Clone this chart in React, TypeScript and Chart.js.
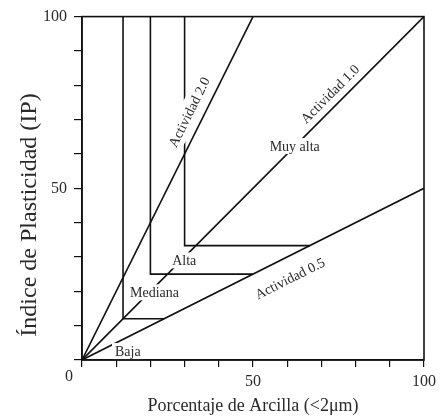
import React, { useEffect, useRef } from 'react';
import { Chart, registerables } from 'chart.js';

Chart.register(...registerables);

// Activity lines (IP = A * clay%)
const act20X = [0, 50];
const act20Y = [0, 100];
const act10X = [0, 100];
const act10Y = [0, 100];
const act05X = [0, 100];
const act05Y = [0, 50];

// Class boundaries
const bound1X = [12, 12, 24];
const bound1Y = [100, 12, 12];
const bound2X = [20, 20, 50];
const bound2Y = [100, 25, 25];
const bound3X = [30, 30, 66.7];
const bound3Y = [100, 33.3, 33.3];

// Tick labels shown
const shownTicks = [50, 100];

// In-plot labels
const labelTexts = ['Actividad 2.0', 'Actividad 1.0', 'Actividad 0.5', 'Muy alta', 'Alta', 'Mediana', 'Baja'];
const labelX = [31.3, 72.5, 60.8, 62.2, 29.9, 21.2, 13.4];
const labelY = [72.2, 77.5, 23.8, 62.3, 29.0, 19.7, 2.6];
const labelSlope = [2, 1, 0.5, 0, 0, 0, 0];

const FONT = "'Liberation Serif', 'Times New Roman', serif";
const LINE = '#111';
const TEXT = '#2a2a2a';

const toPts = (xs: number[], ys: number[]) => xs.map((x, i) => ({ x, y: ys[i] }));

const decorPlugin = {
  id: 'decor',
  afterDatasetsDraw(chart: any) {
    const { ctx, chartArea, scales } = chart;
    const xs = scales.x;
    const ys = scales.y;
    ctx.save();
    // frame
    ctx.strokeStyle = LINE;
    ctx.lineWidth = 1.6;
    ctx.strokeRect(chartArea.left, chartArea.top, chartArea.right - chartArea.left, chartArea.bottom - chartArea.top);

    // labels with white boxes
    ctx.font = `14px ${FONT}`;
    ctx.textAlign = 'center';
    ctx.textBaseline = 'middle';
    labelTexts.forEach((t, i) => {
      const px = xs.getPixelForValue(labelX[i]);
      const py = ys.getPixelForValue(labelY[i]);
      const m = labelSlope[i];
      let ang = 0;
      if (m !== 0) {
        const dx = xs.getPixelForValue(10) - xs.getPixelForValue(0);
        const dy = ys.getPixelForValue(10 * m) - ys.getPixelForValue(0);
        ang = Math.atan2(dy, dx);
      }
      const w = ctx.measureText(t).width;
      ctx.save();
      ctx.translate(px, py);
      ctx.rotate(ang);
      ctx.fillStyle = '#fff';
      const h = m !== 0 ? 20 : 16;
      ctx.fillRect(-w / 2 - 3, -h / 2, w + 6, h);
      ctx.fillStyle = TEXT;
      ctx.fillText(t, 0, 1);
      ctx.restore();
    });

    // corner zero
    ctx.font = `16px ${FONT}`;
    ctx.fillStyle = TEXT;
    ctx.textAlign = 'center';
    ctx.textBaseline = 'middle';
    ctx.fillText('0', chartArea.left - 13, chartArea.bottom + 17);

    // y title
    ctx.save();
    ctx.translate(30, 215);
    ctx.rotate(-Math.PI / 2);
    ctx.font = `24px ${FONT}`;
    ctx.fillText('Índice de Plasticidad (IP)', 0, 0);
    ctx.restore();

    ctx.restore();
  },
};

export default function App() {
  const ref = useRef<HTMLCanvasElement | null>(null);

  useEffect(() => {
    if (!ref.current) return;
    const lineDs = (xs: number[], ys: number[]) => ({
      data: toPts(xs, ys),
      showLine: true,
      borderColor: LINE,
      borderWidth: 1.6,
      pointRadius: 0,
      fill: false,
      tension: 0,
    });
    const tickCb = (v: any) => (shownTicks.includes(Number(v)) ? String(v) : '');
    const chart = new Chart(ref.current, {
      type: 'scatter',
      data: {
        datasets: [
          lineDs(act20X, act20Y),
          lineDs(act10X, act10Y),
          lineDs(act05X, act05Y),
          lineDs(bound1X, bound1Y),
          lineDs(bound2X, bound2Y),
          lineDs(bound3X, bound3Y),
        ],
      },
      options: {
        animation: false,
        responsive: true,
        maintainAspectRatio: false,
        layout: { padding: { top: 15, right: 13, left: 0, bottom: 0 } },
        plugins: { legend: { display: false }, tooltip: { enabled: false } },
        scales: {
          x: {
            type: 'linear',
            min: 0,
            max: 100,
            afterFit: (s: any) => {
              s.height = 59;
            },
            grid: { drawOnChartArea: false, drawTicks: true, tickLength: 7, color: LINE, lineWidth: 1.2 },
            border: { display: true, color: LINE, width: 1.6 },
            ticks: {
              stepSize: 10,
              autoSkip: false,
              maxRotation: 0,
              padding: 5,
              color: TEXT,
              font: { family: FONT, size: 16 },
              callback: tickCb,
            },
            title: {
              display: true,
              text: 'Porcentaje de Arcilla (<2μm)',
              color: TEXT,
              font: { family: FONT, size: 18 },
              padding: { top: 0, bottom: 2 },
            },
          },
          y: {
            type: 'linear',
            min: 0,
            max: 100,
            afterFit: (s: any) => {
              s.width = 82;
            },
            grid: { drawOnChartArea: false, drawTicks: true, tickLength: 8, color: LINE, lineWidth: 1.2 },
            border: { display: true, color: LINE, width: 1.6 },
            ticks: {
              stepSize: 10,
              autoSkip: false,
              padding: 7,
              color: TEXT,
              font: { family: FONT, size: 16 },
              callback: tickCb,
            },
          },
        },
      },
      plugins: [decorPlugin],
    } as any);
    return () => chart.destroy();
  }, []);

  return (
    <div style={{ position: 'absolute', left: 0, top: 0, width: 441, height: 419 }}>
      <canvas ref={ref} />
    </div>
  );
}
